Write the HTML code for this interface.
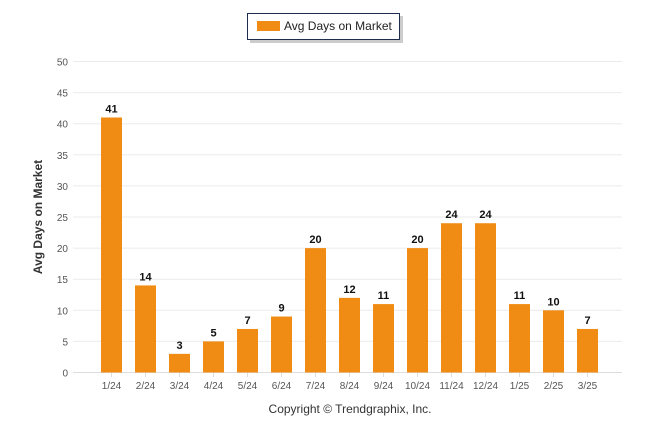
<!DOCTYPE html>
<html><head><meta charset="utf-8"><style>
body{margin:0;background:#fff;font-family:"Liberation Sans",sans-serif}
svg{display:block}
</style></head><body>
<svg width="646" height="434">
<g>
<rect x="250" y="16" width="153" height="27" fill="#999" opacity="0.5"/>
<rect x="247.5" y="13.5" width="152" height="26" fill="#fff" stroke="#1f2d4d" stroke-width="1"/>
<rect x="257" y="21" width="23" height="10" fill="#f08c14"/>
<text x="284" y="30" font-size="12" fill="#222">Avg Days on Market</text>
</g>
<g id="grid"></g><g id="bars"></g>
<text transform="translate(42,217) rotate(-90)" text-anchor="middle" font-size="12" font-weight="bold" fill="#333">Avg Days on Market</text>
<text x="350" y="413" text-anchor="middle" font-size="12" fill="#333">Copyright © Trendgraphix, Inc.</text>
</svg>
<script>
const categories=["1/24","2/24","3/24","4/24","5/24","6/24","7/24","8/24","9/24","10/24","11/24","12/24","1/25","2/25","3/25"];
const values=[41,14,3,5,7,9,20,12,11,20,24,24,11,10,7];
const yTicks=[0,5,10,15,20,25,30,35,40,45,50];
const NS="http://www.w3.org/2000/svg";
const y=v=>372.5-v*(311/50);
const x=i=>111.5+i*34;
const g=document.getElementById('grid'),b=document.getElementById('bars');
function mk(t,a,p){const e=document.createElementNS(NS,t);for(const k in a)e.setAttribute(k,a[k]);p.appendChild(e);return e;}
yTicks.forEach(v=>{
 const l=mk('line',{x1:73,x2:622,y1:y(v),y2:y(v),stroke:v===0?'#ddd':'#ebebeb','stroke-width':1},g);
 
 
 const t=mk('text',{x:68,y:y(v)+4,'text-anchor':'end','font-size':10,fill:'#555'},g);
 t.textContent=v;
 
 
});
categories.forEach((c,i)=>{
 const r=mk('rect',{x:x(i)-10.5,y:y(values[i]),width:21,height:y(0)-y(values[i]),fill:'#f08c14'},b);
 
 
 const v=mk('text',{x:x(i),y:y(values[i])-5,'text-anchor':'middle','font-size':11,'font-weight':'bold',fill:'#111'},b);
 v.textContent=values[i];
 
 
 const t=mk('text',{x:x(i),y:389,'text-anchor':'middle','font-size':10,fill:'#555'},b);
 t.textContent=c;
 
 
 mk('line',{x1:x(i),x2:x(i),y1:373,y2:377,stroke:'#ddd'},b);
});
</script>
</body></html>
